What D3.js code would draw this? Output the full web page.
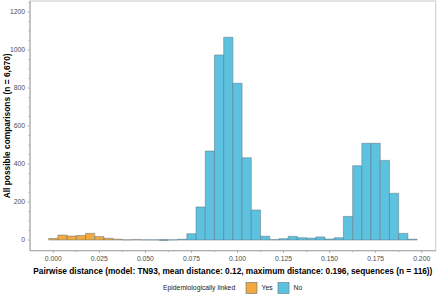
<!DOCTYPE html>
<html><head><meta charset="utf-8">
<script src="https://cdn.jsdelivr.net/npm/d3@7/dist/d3.min.js"></script>
<style>body{margin:0;background:#fff}svg{display:block;font-family:"Liberation Sans",Arial,sans-serif}</style>
</head><body><svg id="c" width="440" height="295"></svg>
<script>
const binCenters = [0.000,0.005,0.010,0.015,0.020,0.025,0.030,0.035,0.040,0.045,
  0.050,0.055,0.060,0.065,0.070,0.075,0.080,0.085,0.090,0.095,
  0.100,0.105,0.110,0.115,0.120,0.125,0.130,0.135,0.140,0.145,
  0.150,0.155,0.160,0.165,0.170,0.175,0.180,0.185,0.190,0.195];
const yesCounts = [8,26,21,24,35,18,9,4,1,2, 0,0,0,0,0,0,0,0,0,0, 0,0,0,0,0,0,0,0,0,0, 0,0,0,0,0,0,0,0,0,0];
const noCounts = [0,0,0,0,0,0,0,0,0,0, 1,1,0,1,4,33,174,468,974,1067, 825,433,158,20,2,7,19,12,10,16, 5,12,124,391,509,509,419,246,35,4];
const binWidth = 0.005;
const xTicks = [0,0.025,0.05,0.075,0.1,0.125,0.15,0.175,0.2];
const yTicks = [0,200,400,600,800,1000,1200];
const groups = ["Yes","No"];
const colors = {Yes:"#F2A93D", No:"#5DC1E0"};

const svg = d3.select("#c");
const L=30, R=435.7, T=1, B=250.7;
const x = d3.scaleLinear().domain([-0.01265,0.2076]).range([L,R]);
const y = d3.scaleLinear().domain([-56.3,1258]).range([B,T]);

// panel border
svg.append("rect").attr("x",L).attr("y",T).attr("width",R-L).attr("height",B-T)
  .attr("fill","none").attr("stroke","#d2d2d2").attr("stroke-width",1.2);

// bars
const g = svg.append("g");
binCenters.forEach((c,i)=>{
  const x0=x(c-binWidth/2), x1=x(c+binWidth/2);
  const stack=[["No",0,noCounts[i]],["Yes",noCounts[i],noCounts[i]+yesCounts[i]]];
  stack.forEach(([k,a,b])=>{
    if(k==="Yes" && yesCounts[i]===0 && noCounts[i]>0) return;
    if(k==="No" && noCounts[i]===0 && yesCounts[i]>0) return;
    const y0=y(a), y1=y(b);
    g.append("path").attr("d",`M${x0},${y0}H${x1}V${y1}H${x0}Z`)
      .attr("fill",colors[k]).attr("stroke","#5d7480").attr("stroke-width",0.6).attr("stroke-opacity",0.85);
  });
});

// axes
const axisCol="#a6a6a6", textCol="#4d4d4d";
svg.append("line").attr("x1",L).attr("x2",L).attr("y1",T).attr("y2",B).attr("stroke",axisCol).attr("stroke-width",1);
svg.append("line").attr("x1",L).attr("x2",R).attr("y1",B).attr("y2",B).attr("stroke",axisCol).attr("stroke-width",1);

const yMinor = d3.range(0,1251,50);
yMinor.forEach(v=>{
  const major = yTicks.includes(v);
  svg.append("line").attr("x1",L-(major?2.5:1.5)).attr("x2",L).attr("y1",y(v)).attr("y2",y(v)).attr("stroke",axisCol).attr("stroke-width",0.8);
});
yTicks.forEach(v=>{
  svg.append("text").attr("x",L-5).attr("y",y(v)).attr("dy","0.35em").attr("text-anchor","end")
    .attr("font-size",6.8).attr("fill",textCol).text(v);
});
const xMinor = d3.range(0,0.2001,0.0125);
xMinor.forEach(v=>{
  const major = Math.abs(Math.round(v/0.025)*0.025-v)<1e-6;
  svg.append("line").attr("x1",x(v)).attr("x2",x(v)).attr("y1",B).attr("y2",B+(major?2.5:1.5)).attr("stroke",axisCol).attr("stroke-width",0.8);
});
xTicks.forEach(v=>{
  svg.append("text").attr("x",x(v)).attr("y",B+10).attr("text-anchor","middle")
    .attr("font-size",6.8).attr("fill",textCol).text(d3.format(".3f")(v));
});

// titles
svg.append("text").attr("transform",`translate(7.5,${(T+B)/2}) rotate(-90)`).attr("text-anchor","middle")
  .attr("font-size",8.4).attr("font-weight","bold").attr("fill","#000").attr("dy","0.35em")
  .text("All possible comparisons (n = 6,670)");
svg.append("text").attr("x",(L+R)/2).attr("y",274).attr("text-anchor","middle")
  .attr("font-size",8.3).attr("font-weight","bold").attr("fill","#000")
  .text("Pairwise distance (model: TN93, mean distance: 0.12, maximum distance: 0.196, sequences (n = 116))");

// legend
const leg = svg.append("g");
leg.append("text").attr("x",163).attr("y",288).attr("dy","0.35em").attr("font-size",6.8).attr("fill","#1a1a1a").text("Epidemiologically linked");
const legPos = {Yes:246, No:278};
groups.forEach(k=>{
  leg.append("rect").attr("x",legPos[k]).attr("y",282.5).attr("width",11).attr("height",11)
    .attr("fill",colors[k]).attr("stroke","#5d7480").attr("stroke-width",0.6);
  leg.append("text").attr("x",legPos[k]+15.5).attr("y",288).attr("dy","0.35em").attr("font-size",6.8).attr("fill","#1a1a1a").text(k);
});
</script></body></html>
